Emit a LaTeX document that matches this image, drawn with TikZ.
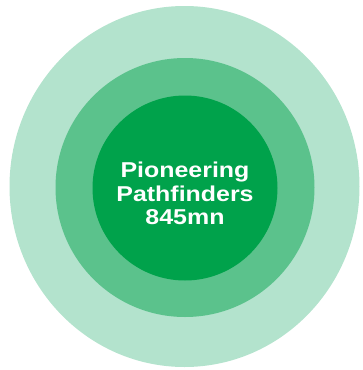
\documentclass[tikz,border=0pt]{standalone}
\usepackage{fontspec}
\setmainfont{Liberation Sans}
\definecolor{ringout}{HTML}{B3E3CD}
\definecolor{ringmid}{HTML}{5BC28C}
\definecolor{ringin}{HTML}{00A24B}
\begin{document}
\begin{tikzpicture}[x=1pt,y=-1pt]
\tikzset{ring/.style={draw=none}}
\useasboundingbox (0,0) rectangle (362,370);
\fill[ring,ringout] (184.5,186.5) ellipse [x radius=175, y radius=180.5];
\fill[ring,ringmid] (185,187.5) circle [radius=129.5];
\fill[ring,ringin] (185,188) circle [radius=92.5];
\node[text=white, font=\fontsize{21.5}{23.5}\selectfont\bfseries, align=center, xscale=1.16, inner sep=0pt] (lbl) at (185,193.5) {Pioneering\\Pathfinders\\845mn};
\end{tikzpicture}
\end{document}
